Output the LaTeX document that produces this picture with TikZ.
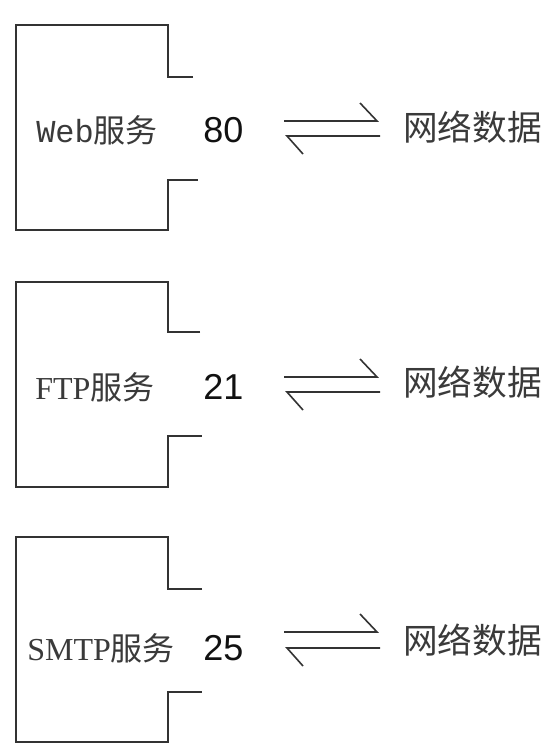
\documentclass[tikz,border=0pt]{standalone}
\usepackage{fontspec}
\setmainfont{Liberation Serif}
\newfontfamily\cjk{Noto Sans CJK SC}
\newfontfamily\monof{Liberation Mono}
\newfontfamily\arialf{Liberation Sans}
\definecolor{linec}{HTML}{333333}
\definecolor{textc}{HTML}{3A3A3A}
\definecolor{numc}{HTML}{111111}
\begin{document}
\begin{tikzpicture}[x=0.75pt,y=-0.75pt,
  boxline/.style={draw=linec,line width=1.5pt},
  harp/.style={draw=linec,line width=1.2pt},
  svc/.style={inner sep=0pt,anchor=west,text=textc,font=\fontsize{24}{28}\selectfont},
  num/.style={inner sep=0pt,anchor=west,text=numc,font=\arialf\fontsize{27}{32}\selectfont},
  net/.style={inner sep=0pt,anchor=west,text=textc,font=\cjk\fontsize{26}{30}\selectfont}]
\useasboundingbox[fill=white] (0,0) rectangle (552,755);

% Row 1
\draw[boxline] (193,77) -- (168,77) -- (168,25) -- (16,25) -- (16,230) -- (168,230) -- (168,180) -- (198,180);
\node[svc] (s1) at (36,130) {{\monof Web}{\cjk 服务}};
\node[num] (n1) at (203,130) {80};
\node[net] (d1) at (403,127) {网络数据};
\coordinate (a1) at (284,121); \coordinate (b1) at (377,121);
\coordinate (c1) at (380,136); \coordinate (e1) at (287,136);
\draw[harp] (a1) -- (b1) -- ++(-17,-18);
\draw[harp] (c1) -- (e1) -- ++(16,18);

% Row 2
\draw[boxline] (200,332) -- (168,332) -- (168,282) -- (16,282) -- (16,487) -- (168,487) -- (168,436) -- (202,436);
\node[svc] (s2) at (35,387) {FTP{\cjk 服务}};
\node[num] (n2) at (203,387) {21};
\node[net] (d2) at (403,382) {网络数据};
\coordinate (a2) at (284,377); \coordinate (b2) at (377,377);
\coordinate (c2) at (380,392); \coordinate (e2) at (287,392);
\draw[harp] (a2) -- (b2) -- ++(-17,-18);
\draw[harp] (c2) -- (e2) -- ++(16,18);

% Row 3
\draw[boxline] (202,589) -- (168,589) -- (168,537) -- (16,537) -- (16,742) -- (168,742) -- (168,692) -- (202,692);
\node[svc] (s3) at (27,648) {SMTP{\cjk 服务}};
\node[num] (n3) at (203,648) {25};
\node[net] (d3) at (403,640) {网络数据};
\coordinate (a3) at (284,632); \coordinate (b3) at (377,632);
\coordinate (c3) at (380,648); \coordinate (e3) at (287,648);
\draw[harp] (a3) -- (b3) -- ++(-17,-18);
\draw[harp] (c3) -- (e3) -- ++(16,18);
\end{tikzpicture}
\end{document}
